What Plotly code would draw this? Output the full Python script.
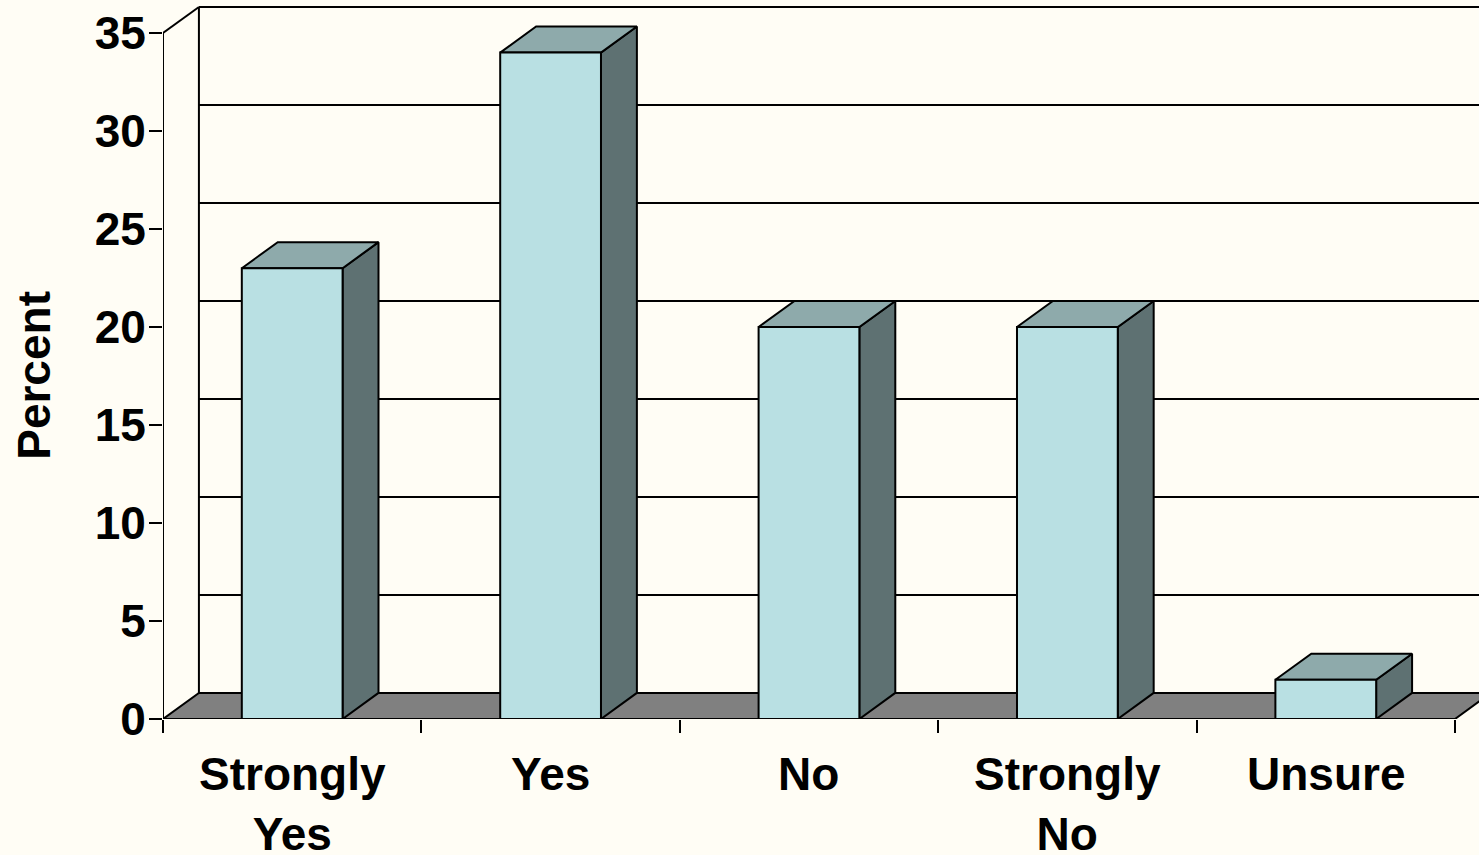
import plotly.graph_objects as go

# Survey responses
categories = ["Strongly<br>Yes", "Yes", "No", "Strongly<br>No", "Unsure"]
percent = [23, 34, 20, 20, 2]
y_ticks = [0, 5, 10, 15, 20, 25, 30, 35]

# 3D look: depth offset of the back plane (in axis units)
DX = 0.139          # categories
DY = 1.33           # percent units
BAR_W = 0.39
X_MAX = 5.093
Y_MAX = 36.48

BG = "#FFFDF5"
FRONT = "#B9E0E3"
TOP = "#8EAAAB"
SIDE = "#5E7172"
FLOOR = "#808080"
LINE = dict(color="black", width=2)

fig = go.Figure()


def poly(xs, ys, fill):
    fig.add_trace(go.Scatter(
        x=list(xs) + [xs[0]], y=list(ys) + [ys[0]],
        mode="lines", fill="toself", fillcolor=fill, line=LINE,
        hoverinfo="skip", showlegend=False))


def seg(xs, ys):
    fig.add_trace(go.Scatter(x=xs, y=ys, mode="lines", line=LINE,
                             hoverinfo="skip", showlegend=False))


n = len(categories)
top_val = y_ticks[-1]

# back wall gridlines
for v in y_ticks[1:]:
    seg([DX, X_MAX + 1], [v + DY, v + DY])
# back wall left edge, side wall edges, front value axis line
seg([DX, DX], [DY, top_val + DY])
seg([0, DX], [top_val, top_val + DY])
seg([0, 0], [0, top_val])

# floor
poly([0, n, n + DX, DX], [0, 0, DY, DY], FLOOR)

# bars: front, top and side faces
for i, v in enumerate(percent):
    x0 = i + 0.5 - BAR_W / 2
    x1 = i + 0.5 + BAR_W / 2
    poly([x1, x1 + DX, x1 + DX, x1], [0, DY, v + DY, v], SIDE)
    poly([x0, x1, x1 + DX, x0 + DX], [v, v, v + DY, v + DY], TOP)
    poly([x0, x1, x1, x0], [0, 0, v, v], FRONT)

font = dict(family="Liberation Sans, Arial, sans-serif", size=46,
            color="black", weight="bold")

for i, c in enumerate(categories):
    fig.add_annotation(x=i + 0.5, xref="x", y=0, yref="paper",
                       yanchor="top", yshift=-27, text=c, showarrow=False,
                       font=font, align="center")

fig.add_annotation(x=0, xref="paper", y=0.48, yref="paper",
                   xanchor="center", yanchor="middle",
                   xshift=-129, text="Percent", textangle=-90,
                   showarrow=False, font=font)

fig.update_layout(
    width=1479, height=855,
    margin=dict(l=163, r=0, t=4, b=136),
    paper_bgcolor=BG, plot_bgcolor=BG,
    showlegend=False,
    xaxis=dict(range=[0, X_MAX], tickvals=list(range(n + 1)),
               showticklabels=False, ticks="outside", ticklen=13,
               tickwidth=2, tickcolor="black", showgrid=False,
               zeroline=False, showline=False, fixedrange=True),
    yaxis=dict(range=[0, Y_MAX], tickvals=y_ticks, ticks="outside",
               ticklen=13, tickwidth=2, tickcolor="black",
               ticklabelstandoff=-6,
               tickfont=font, showgrid=False, zeroline=False,
               showline=False, fixedrange=True),
)

fig.write_html("out.html")
